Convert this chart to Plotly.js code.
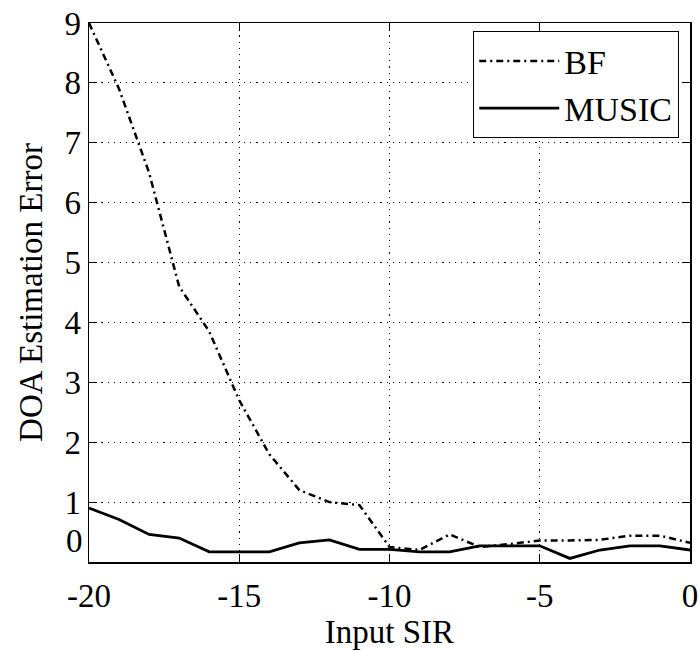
<!DOCTYPE html>
<html>
<head>
<meta charset="utf-8">
<script src="https://cdn.plot.ly/plotly-3.0.1.min.js"></script>
<style>html,body{margin:0;padding:0;background:#fff;}#chart{width:699px;height:650px;}</style>
</head>
<body>
<div id="chart"></div>
<script>
const sir = [-20,-19,-18,-17,-16,-15,-14,-13,-12,-11,-10,-9,-8,-7,-6,-5,-4,-3,-2,-1,0];
const bfError = [9.0,7.9,6.5,4.6,3.85,2.7,1.8,1.2,1.0,0.95,0.25,0.2,0.46,0.25,0.3,0.36,0.36,0.37,0.44,0.44,0.32];
const musicError = [0.9,0.71,0.46,0.4,0.17,0.17,0.17,0.32,0.37,0.21,0.21,0.17,0.17,0.27,0.27,0.27,0.06,0.2,0.27,0.27,0.2];
const xTicks = [-20,-15,-10,-5,0];
const xTickText = ['-20','-15','-10','-5','0'];
const yTicks = [1,2,3,4,5,6,7,8,9];
const yTickText = ['1','2','3','4','5','6','7','8','9'];
const yZeroLabel = '0';

const FAM = '"Liberation Serif", "Times New Roman", serif';
const f = (s) => ({family: FAM, color: '#000', size: s});

const traces = [
  {x: sir, y: bfError, name: 'BF', mode: 'lines',
   line: {color: '#000', width: 2.5, dash: '7px,4px,2px,4px'}},
  {x: sir, y: musicError, name: 'MUSIC', mode: 'lines',
   line: {color: '#000', width: 2.8}}
];

const layout = {
  width: 699, height: 650,
  margin: {l: 89, r: 9, t: 23, b: 88},
  paper_bgcolor: '#fff', plot_bgcolor: '#fff',
  font: f(33),
  showlegend: true,
  legend: {x: 0.639, y: 0.985, xanchor: 'left', yanchor: 'top',
           bgcolor: '#fff', bordercolor: '#000', borderwidth: 1.2,
           font: f(34), itemwidth: 80, tracegroupgap: 0},
  xaxis: {range: [-20, 0], tickvals: xTicks, ticktext: xTickText,
          showline: true, linecolor: '#000', linewidth: 1.5, mirror: 'ticks',
          ticks: 'inside', ticklen: 8, tickcolor: '#000', tickwidth: 1.2,
          showgrid: true, gridcolor: '#000', gridwidth: 1, griddash: '1.2px,5px',
          zeroline: false, tickfont: f(33), ticklabelstandoff: 4,
          title: {text: 'Input SIR', font: f(33), standoff: 2}},
  yaxis: {range: [0, 9], tickvals: yTicks, ticktext: yTickText,
          showline: true, linecolor: '#000', linewidth: 1.5, mirror: 'ticks',
          ticks: 'inside', ticklen: 8, tickcolor: '#000', tickwidth: 1.2,
          showgrid: true, gridcolor: '#000', gridwidth: 1, griddash: '1.2px,5px',
          zeroline: false, tickfont: f(33),
          title: {text: 'DOA Estimation Error', font: f(33), standoff: 12}},
  annotations: [
    {x: 0, y: 0, xref: 'paper', yref: 'y', text: yZeroLabel, showarrow: false,
     xanchor: 'right', yanchor: 'middle', xshift: -4, yshift: 21,
     font: f(33)}
  ]
};

Plotly.newPlot('chart', traces, layout, {displayModeBar: false, staticPlot: true});
</script>
</body>
</html>
